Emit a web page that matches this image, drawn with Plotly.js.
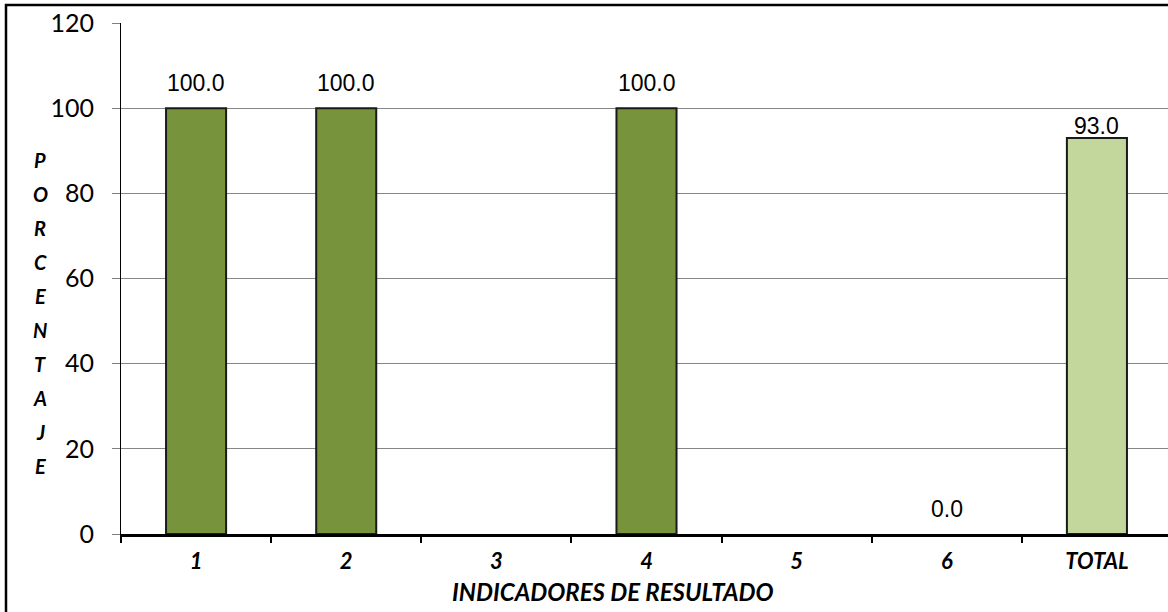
<!DOCTYPE html>
<html>
<head>
<meta charset="utf-8">
<script src="https://cdn.plot.ly/plotly-3.0.1.min.js"></script>
<style>
html,body{margin:0;padding:0;overflow:hidden;background:#fff;}
#chart{width:1172px;height:612px;}
</style>
</head>
<body>
<div id="chart"></div>
<script>
// Data
const categories = ['1', '2', '3', '4', '5', '6', 'TOTAL'];
const values = [100.0, 100.0, null, 100.0, null, 0.0, 93.0];
const isTotal = [false, false, false, false, false, false, true];
const yTicks = [0, 20, 40, 60, 80, 100, 120];
const yTitle = 'PORCENTAJE';
const xTitle = 'INDICADORES DE RESULTADO';

const darkGreen = '#77933C';
const lightGreen = '#C3D69B';

const W = 1172, H = 612;
const mL = 121, mR = 0, mT = 23, mB = 78;
const plotW = W - mL - mR, plotH = H - mT - mB;
const px2x = p => (p - mL) / plotW;
const py2y = p => (H - mB - p) / plotH;

const trace = {
  type: 'bar',
  x: categories,
  y: values,
  width: 0.4,
  marker: {
    color: isTotal.map(t => t ? lightGreen : darkGreen),
    line: {color: '#1a1a1a', width: values.map(v => (v ? 2 : 0))}
  },
  hoverinfo: 'x+y'
};

const annotations = [];
categories.forEach((c, i) => {
  if (values[i] === null) return;
  annotations.push({
    x: i, y: values[i], xref: 'x', yref: 'y',
    text: values[i].toFixed(1),
    showarrow: false, yanchor: 'bottom',
    yshift: isTotal[i] ? -3 : 10,
    font: {family: 'Liberation Sans, Arial, sans-serif', size: 23, color: '#000'}
  });
});

// vertical stacked y-axis title
const letters = yTitle.split('');
letters.forEach((ch, i) => {
  annotations.push({
    x: px2x(40), y: py2y(160 + i * 34.0), xref: 'paper', yref: 'paper',
    text: ch, showarrow: false, xanchor: 'center', yanchor: 'middle',
    font: {family: 'Lato, sans-serif', size: 20, color: '#000', weight: 'bold', style: 'italic'}
  });
});

// x-axis title
annotations.push({
  x: px2x(613), y: py2y(591), xref: 'paper', yref: 'paper',
  text: '<b><i>' + xTitle + '</i></b>', showarrow: false,
  xanchor: 'center', yanchor: 'middle',
  font: {family: 'Lato, sans-serif', size: 24, color: '#000'}
});

const layout = {
  width: W, height: H,
  margin: {l: mL, r: mR, t: mT, b: mB, pad: 0},
  paper_bgcolor: '#fff', plot_bgcolor: '#fff',
  showlegend: false,
  bargap: 0.6,
  xaxis: {
    type: 'category',
    tickson: 'boundaries',
    ticks: 'outside', ticklen: 6, tickwidth: 2, tickcolor: '#000',
    showline: true, linecolor: '#000', linewidth: 2.5,
    showgrid: false, zeroline: false,
    tickfont: {family: 'Lato, sans-serif', size: 22, color: '#000', weight: 'bold', style: 'italic'},
    ticklabelstandoff: 6
  },
  yaxis: {
    range: [0, 120],
    tickvals: yTicks,
    ticktext: yTicks.map(String),
    ticks: 'outside', ticklen: 8, tickwidth: 1, tickcolor: '#808080',
    showline: true, linecolor: '#000', linewidth: 1,
    showgrid: true, gridcolor: '#868686', gridwidth: 1.2,
    zeroline: false,
    tickfont: {family: 'Lato, sans-serif', size: 25, color: '#000'},
    ticklabelstandoff: 13
  },
  annotations: annotations,
  shapes: [{
    type: 'rect', xref: 'paper', yref: 'paper',
    x0: px2x(6), x1: px2x(1190), y0: py2y(640), y1: py2y(5),
    line: {color: '#000', width: 2.5}, fillcolor: 'rgba(0,0,0,0)', layer: 'below'
  }]
};

Plotly.newPlot('chart', [trace], layout, {displayModeBar: false, staticPlot: true});
</script>
</body>
</html>
